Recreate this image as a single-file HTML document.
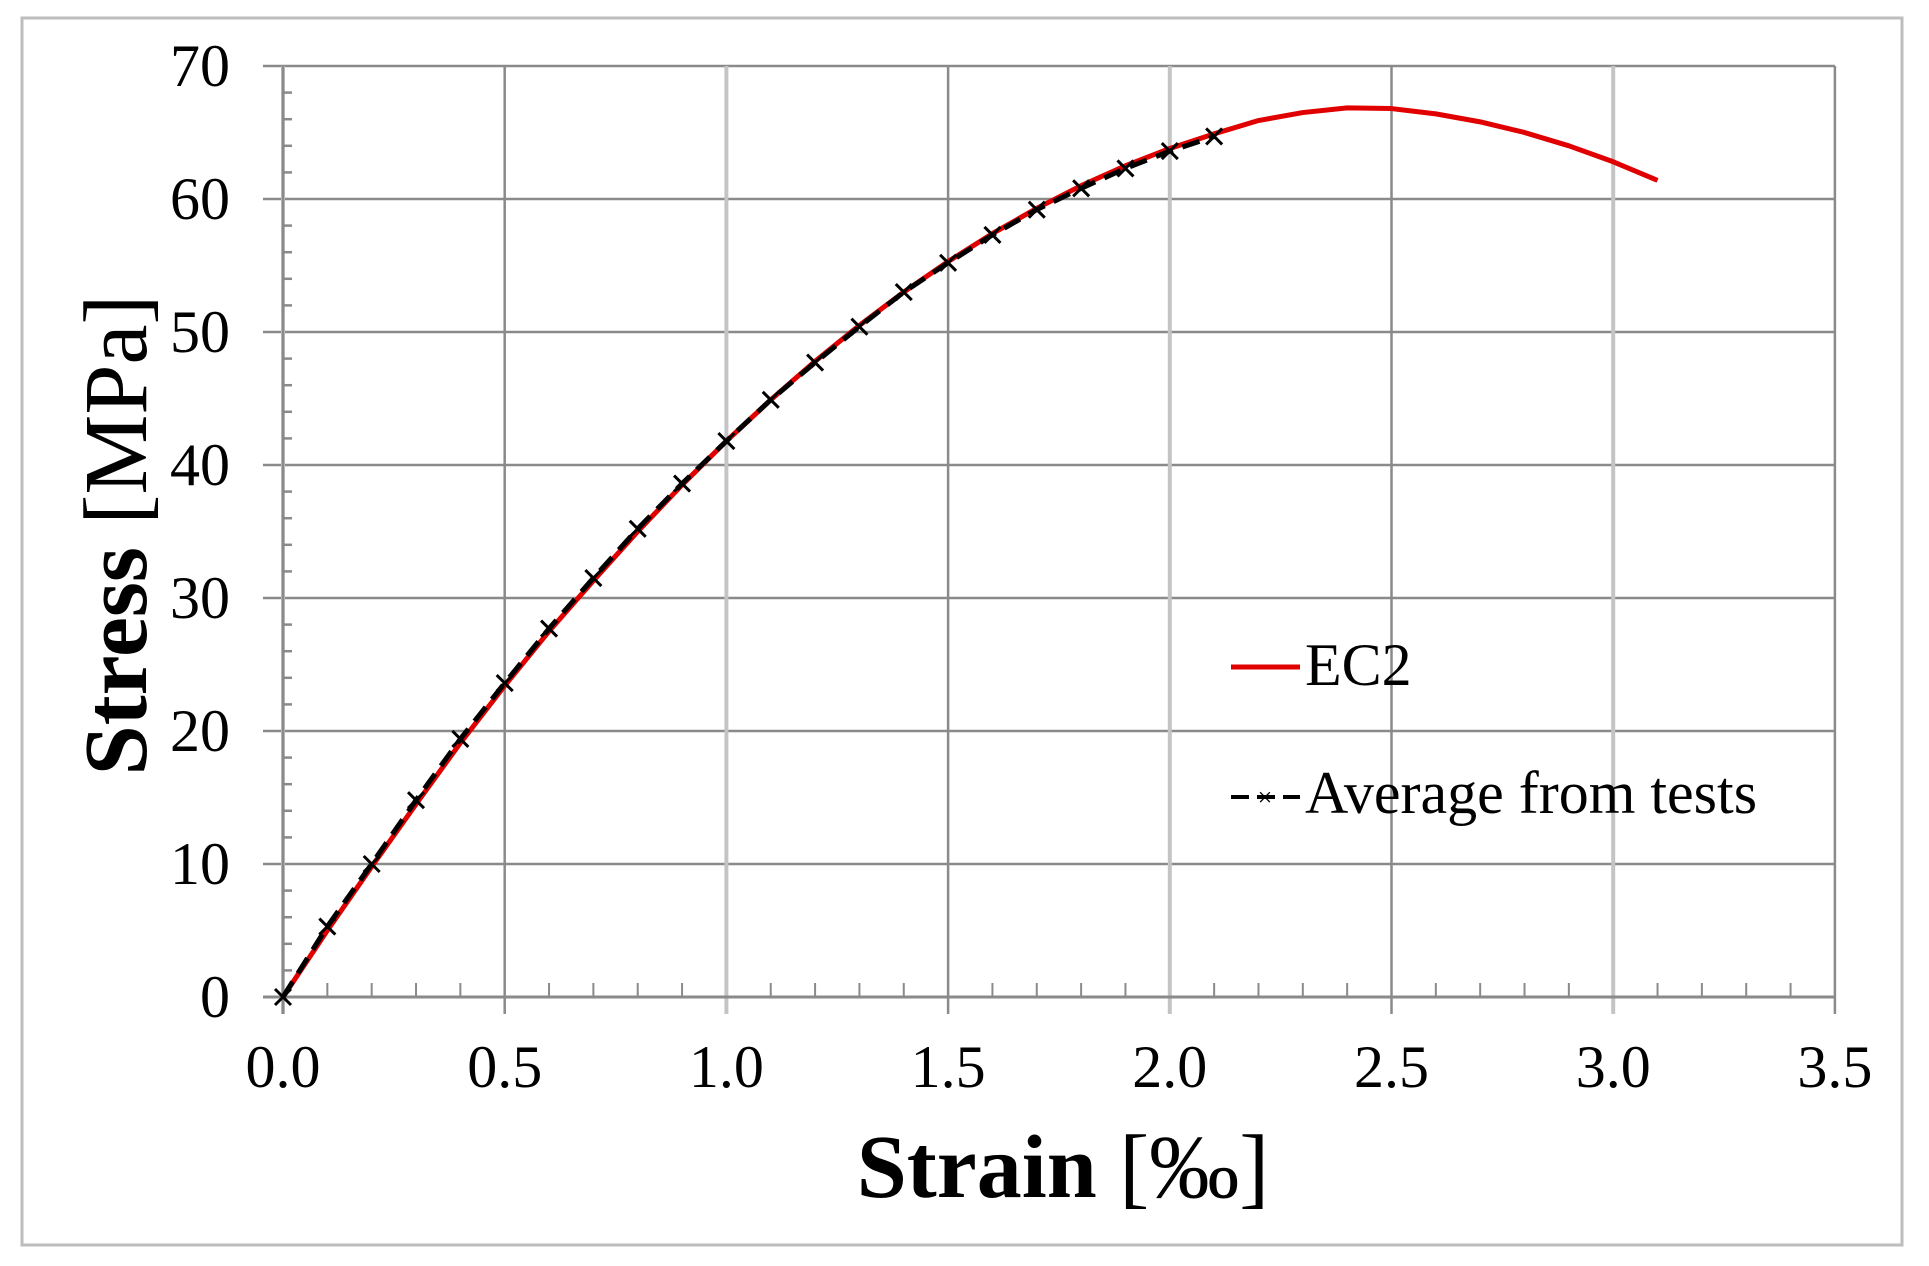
<!DOCTYPE html>
<html><head><meta charset="utf-8"><style>
html,body{margin:0;padding:0;background:#fff;}
svg{display:block;font-family:"Liberation Serif",serif;}
</style></head><body>
<svg id="chart" width="1929" height="1266" viewBox="0 0 1929 1266" xmlns="http://www.w3.org/2000/svg">
<rect x="22" y="18" width="1880" height="1227" fill="#fff" stroke="#bdbdbd" stroke-width="3"/>
<g id="grid"></g>
<g id="axes"></g>
<g id="series"></g>
<text x="1063" y="1197" text-anchor="middle" font-size="90" fill="#000"><tspan font-weight="bold">Strain</tspan> [‰]</text>
<text transform="translate(146,535) rotate(-90)" text-anchor="middle" font-size="90" fill="#000"><tspan font-weight="bold">Stress</tspan> [MPa]</text>
<g>
<line x1="1231" y1="667" x2="1300" y2="667" stroke="#e00000" stroke-width="5"/>
<text x="1305" y="685" font-size="60">EC2</text>
<line x1="1231" y1="797" x2="1300" y2="797" stroke="#000" stroke-width="4" stroke-dasharray="18,8"/>
<text x="1265" y="806" font-size="26" text-anchor="middle">×</text>
<text x="1305" y="813" font-size="60">Average from tests</text>
</g>
</svg>
<script>
const xTicks = [0.0, 0.5, 1.0, 1.5, 2.0, 2.5, 3.0, 3.5];
const xTickLabels = ["0.0","0.5","1.0","1.5","2.0","2.5","3.0","3.5"];
const yTicks = [0, 10, 20, 30, 40, 50, 60, 70];
const yTickLabels = ["0","10","20","30","40","50","60","70"];
const ec2Strain = [0,0.1,0.2,0.3,0.4,0.5,0.6,0.7,0.8,0.9,1.0,1.1,1.2,1.3,1.4,1.5,1.6,1.7,1.8,1.9,2.0,2.1,2.2,2.3,2.4,2.5,2.6,2.7,2.8,2.9,3.0,3.1];
const ec2Stress = [0,5,9.8,14.5,19.1,23.4,27.5,31.3,35.0,38.5,41.8,44.9,47.8,50.5,53.0,55.3,57.4,59.3,61.0,62.5,63.8,64.9,65.9,66.5,66.85,66.8,66.4,65.8,65.0,64.0,62.8,61.4];
const testStrain = [0,0.1,0.2,0.3,0.4,0.5,0.6,0.7,0.8,0.9,1.0,1.1,1.2,1.3,1.4,1.5,1.6,1.7,1.8,1.9,2.0,2.1];
const testStress = [0,5.3,10,14.8,19.4,23.6,27.7,31.5,35.2,38.6,41.8,44.9,47.7,50.4,53.0,55.2,57.3,59.2,60.8,62.3,63.6,64.7];

const NS = "http://www.w3.org/2000/svg";
const X0 = 283, XS = 443.4, Y0 = 997, YS = 13.3;
const xs = v => X0 + v * XS;
const ys = v => Y0 - v * YS;
function mk(tag, attrs, parent) {
  const e = document.createElementNS(NS, tag);
  for (const k in attrs) e.setAttribute(k, attrs[k]);
  parent.appendChild(e);
  return e;
}
const grid = document.getElementById('grid');
const axes = document.getElementById('axes');
const series = document.getElementById('series');
const xMax = xTicks[xTicks.length - 1], yMax = yTicks[yTicks.length - 1];

yTicks.forEach((t, i) => {
  if (i > 0) {
    const l = mk('line', {x1: xs(0) - 20, x2: xs(xMax), y1: ys(t), y2: ys(t), stroke: '#8a8a8a', 'stroke-width': 2.5}, grid);
    
    
  }
  const tx = mk('text', {x: 230, y: ys(t) + 20, 'text-anchor': 'end', 'font-size': 60}, axes);
  tx.textContent = yTickLabels[i];
  
  
});
for (let v = 2; v < yMax; v += 2) {
  if (v % 10 === 0) continue;
  const m = mk('line', {x1: xs(0), x2: xs(0) + 9, y1: ys(v), y2: ys(v), stroke: '#8a8a8a', 'stroke-width': 2.5}, axes);
  
  
}
xTicks.forEach((t, i) => {
  const dark = Math.round(t * 10) % 10 === 5;
  const l = mk('line', {x1: xs(t), x2: xs(t), y1: ys(yMax), y2: Y0 + 17, stroke: dark ? '#8a8a8a' : '#c4c4c4', 'stroke-width': dark ? 2.5 : 4}, grid);
  
  
  const tx = mk('text', {x: xs(t), y: Y0 + 90, 'text-anchor': 'middle', 'font-size': 60}, axes);
  tx.textContent = xTickLabels[i];
  
  
});
for (let k = 1; k < 35; k++) {
  if (k % 5 === 0) continue;
  const m = mk('line', {x1: xs(k / 10), x2: xs(k / 10), y1: Y0, y2: Y0 - 14, stroke: '#8a8a8a', 'stroke-width': 2}, axes);
  
  
}
const ya = mk('line', {x1: xs(0), x2: xs(0), y1: ys(yMax), y2: Y0 + 17, stroke: '#8a8a8a', 'stroke-width': 2.5}, axes);


const xa = mk('line', {x1: xs(0) - 20, x2: xs(xMax), y1: Y0, y2: Y0, stroke: '#8a8a8a', 'stroke-width': 3}, axes);



const ec2 = mk('polyline', {points: ec2Strain.map((v, i) => xs(v) + ',' + ys(ec2Stress[i])).join(' '), fill: 'none', stroke: '#e00000', 'stroke-width': 5, 'stroke-linejoin': 'round'}, series);


const tl = mk('polyline', {points: testStrain.map((v, i) => xs(v) + ',' + ys(testStress[i])).join(' '), fill: 'none', stroke: '#000', 'stroke-width': 5, 'stroke-dasharray': '18,10'}, series);


testStrain.forEach((v, i) => {
  const cx = xs(v), cy = ys(testStress[i]), r = 8;
  const g = mk('path', {d: `M${cx - r},${cy - r}L${cx + r},${cy + r}M${cx - r},${cy + r}L${cx + r},${cy - r}`, stroke: '#000', 'stroke-width': 3, fill: 'none'}, series);
  
  
});
</script>
</body></html>
